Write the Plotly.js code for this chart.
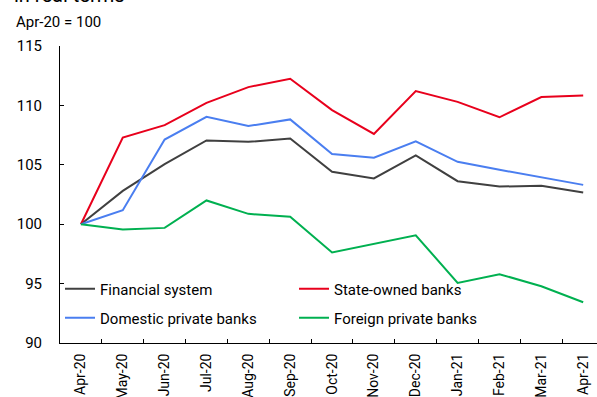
<!DOCTYPE html>
<html>
<head>
<meta charset="utf-8">
<script src="https://cdn.plot.ly/plotly-3.0.1.min.js"></script>
<style>html,body{margin:0;padding:0;overflow:hidden;background:#fff}</style>
</head>
<body>
<div id="chart" style="width:597px;height:397px"></div>
<script>
const months = ["Apr-20","May-20","Jun-20","Jul-20","Aug-20","Sep-20","Oct-20","Nov-20","Dec-20","Jan-21","Feb-21","Mar-21","Apr-21"];
const financialSystem = [100, 102.8, 105.05, 107.05, 106.93, 107.22, 104.41, 103.85, 105.79, 103.62, 103.17, 103.23, 102.67];
const stateOwned      = [100, 107.3, 108.34, 110.22, 111.54, 112.24, 109.6, 107.6, 111.2, 110.3, 109.0, 110.7, 110.84];
const domesticPrivate = [100, 101.18, 107.13, 109.04, 108.26, 108.82, 105.9, 105.59, 106.97, 105.25, 104.58, 103.93, 103.31];
const foreignPrivate  = [100, 99.55, 99.69, 102.0, 100.87, 100.62, 97.62, 98.32, 99.07, 95.06, 95.79, 94.78, 93.43];
const yTicks = [90, 95, 100, 105, 110, 115];

const font = "Roboto, 'Open Sans', sans-serif";
function tr(name, y, color, leg) {
  return {x: months, y: y, name: name, type: "scatter", mode: "lines",
          line: {color: color, width: 2}, legend: leg, hoverinfo: "x+y+name"};
}
const data = [
  tr("Financial system", financialSystem, "#404040", "legend"),
  tr("State-owned banks", stateOwned, "#e8001c", "legend2"),
  tr("Domestic private banks", domesticPrivate, "#4a7ef0", "legend3"),
  tr("Foreign private banks", foreignPrivate, "#00b050", "legend4")
];
function leg(x, y) {
  return {x: x, y: y, xanchor: "left", yanchor: "middle", bgcolor: "rgba(0,0,0,0)",
          font: {family: font, size: 15, color: "#000"}, itemwidth: 30};
}
const layout = {
  width: 597, height: 397,
  margin: {l: 60, r: 0, t: 46, b: 54},
  paper_bgcolor: "#fff", plot_bgcolor: "#fff",
  font: {family: font, size: 15, color: "#000"},
  showlegend: true,
  legend: leg(0.0, 0.182),
  legend2: leg(0.4358, 0.182),
  legend3: leg(0.0, 0.084),
  legend4: leg(0.4358, 0.084),
  xaxis: {
    type: "category", categoryorder: "array", categoryarray: months,
    range: [-0.5, 12.33], tickangle: -90, tickson: "boundaries",
    ticks: "inside", ticklen: 4, tickcolor: "#000", showline: true, linecolor: "#000", linewidth: 1,
    showgrid: false, zeroline: false, ticklabelstandoff: 4,
    tickfont: {family: font, size: 14, color: "#000"}
  },
  yaxis: {
    range: [90, 115], tickvals: yTicks, ticktext: yTicks.map(String),
    ticks: "inside", ticklen: 4, tickcolor: "#000", showline: true, linecolor: "#000", linewidth: 1,
    showgrid: false, zeroline: false, ticklabelstandoff: 14,
    tickfont: {family: font, size: 15, color: "#000"}
  },
  annotations: [
    {text: "in real terms", xref: "paper", yref: "paper", x: -0.09, y: 1, xanchor: "left", yanchor: "bottom",
     yshift: 37, showarrow: false, font: {family: font, size: 20, color: "#000"}},
    {text: "Apr-20 = 100", xref: "paper", yref: "paper", x: -0.085, y: 1, xanchor: "left", yanchor: "middle",
     yshift: 24, showarrow: false, font: {family: font, size: 15, color: "#000"}}
  ]
};
Plotly.newPlot("chart", data, layout, {displayModeBar: false, staticPlot: true});
</script>
</body>
</html>
